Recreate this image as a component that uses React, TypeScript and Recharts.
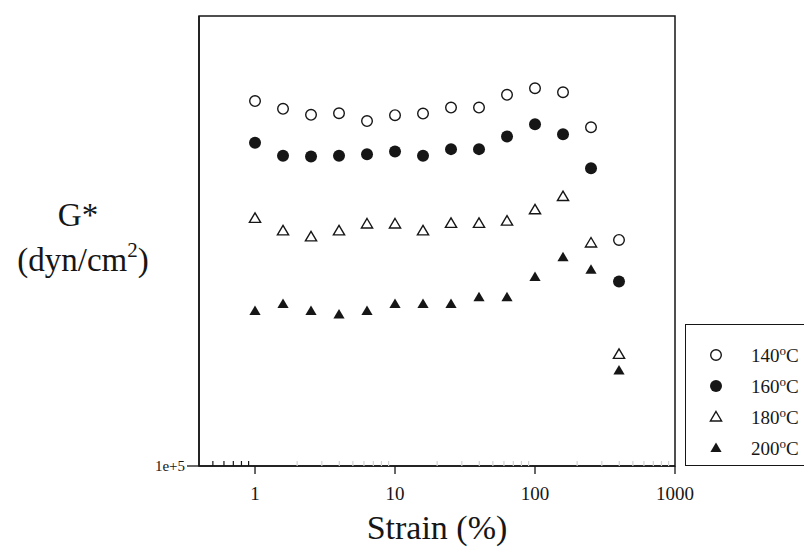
import React from "react";
import { ScatterChart, Scatter, XAxis, YAxis, ReferenceArea, Legend } from "recharts";

// strain (%) — five readings per decade
const strain = [1, 1.585, 2.512, 3.981, 6.31, 10, 15.85, 25.12, 39.81, 63.1, 100, 158.5, 251.2, 398.1];

// complex modulus G* (dyn/cm^2) per test temperature
const g140 = [6.47e5, 6.22e5, 6.03e5, 6.08e5, 5.84e5, 6.02e5, 6.07e5, 6.26e5, 6.26e5, 6.68e5, 6.91e5, 6.77e5, 5.66e5, 3.18e5];
const g160 = [5.23e5, 4.89e5, 4.87e5, 4.89e5, 4.93e5, 5.0e5, 4.89e5, 5.06e5, 5.06e5, 5.4e5, 5.75e5, 5.46e5, 4.59e5, 2.57e5];
const g180 = [3.55e5, 3.33e5, 3.23e5, 3.33e5, 3.45e5, 3.45e5, 3.33e5, 3.46e5, 3.46e5, 3.5e5, 3.71e5, 3.97e5, 3.13e5, 1.77e5];
const g200 = [2.21e5, 2.29e5, 2.21e5, 2.17e5, 2.21e5, 2.29e5, 2.29e5, 2.29e5, 2.37e5, 2.37e5, 2.63e5, 2.91e5, 2.73e5, 1.63e5];

const temps = ["140", "160", "180", "200"];

const xMajor = [1, 10, 100, 1000];
const xMinorDark = [0.5, 0.6, 0.7, 0.8, 0.9];
const xMinorFaint = [2, 3, 4, 5, 6, 7, 8, 9, 20, 30, 40, 50, 60, 70, 80, 90, 200, 300, 400, 500, 600, 700, 800, 900];
const yTicks = [1e5];

const FONT = "'Liberation Serif', 'DejaVu Serif', serif";
const INK = "#161616";

const toPoints = (vals: number[]) => strain.map((s, i) => ({ x: s, y: vals[i] }));

type Kind = "openCircle" | "dot" | "openTri" | "tri";

function Marker({ kind, cx, cy }: { kind: Kind; cx: number; cy: number }) {
  if (kind === "openCircle")
    return <circle cx={cx} cy={cy} r={5.3} fill="#fff" stroke={INK} strokeWidth={1.4} />;
  if (kind === "dot") return <circle cx={cx} cy={cy} r={6} fill={INK} />;
  const d = `M${cx},${cy - 5.5} L${cx + 5.6},${cy + 4} L${cx - 5.6},${cy + 4} Z`;
  if (kind === "openTri")
    return <path d={d} fill="#fff" stroke={INK} strokeWidth={1.4} strokeLinejoin="miter" />;
  return <path d={d} fill={INK} />;
}

const kinds: Kind[] = ["openCircle", "dot", "openTri", "tri"];
const seriesData = [g140, g160, g180, g200];

function StrainTick(props: any) {
  const { x, y, payload } = props;
  const v = payload.value as number;
  if (xMajor.includes(v)) {
    return (
      <g>
        <line x1={x} y1={y} x2={x} y2={y + 8} stroke={INK} strokeWidth={1.3} />
        <text x={x} y={y + 34} textAnchor="middle" fontFamily={FONT} fontSize={19} fill={INK}>
          {v}
        </text>
      </g>
    );
  }
  const faint = xMinorFaint.includes(v);
  return (
    <line
      x1={x}
      y1={y}
      x2={x}
      y2={y - 5}
      stroke={faint ? "#d2d2d2" : INK}
      strokeWidth={1.2}
    />
  );
}

function ModulusTick(props: any) {
  const { x, y } = props;
  return (
    <g>
      <line x1={x - 12} y1={y} x2={x} y2={y} stroke={INK} strokeWidth={1.3} />
      <text x={x - 14} y={y + 5} textAnchor="end" fontFamily={FONT} fontSize={15} fill={INK}>
        1e+5
      </text>
    </g>
  );
}

function LegendBox() {
  return (
    <div
      style={{
        boxSizing: "border-box",
        width: 119,
        height: 142,
        borderTop: `1.5px solid ${INK}`,
        borderLeft: `1.5px solid ${INK}`,
        borderBottom: `1.5px solid ${INK}`,
        background: "#fff",
        paddingTop: 14,
        fontFamily: FONT,
      }}
    >
      {temps.map((t, i) => (
        <div key={t} style={{ display: "flex", alignItems: "center", height: 31 }}>
          <svg width={60} height={20} style={{ flex: "none" }}>
            <Marker kind={kinds[i]} cx={30} cy={10} />
          </svg>
          <span style={{ marginLeft: 5, fontSize: 19, color: INK, lineHeight: 1 }}>
            {t}
            <sup style={{ fontSize: 13, verticalAlign: 7 }}>o</sup>C
          </span>
        </div>
      ))}
    </div>
  );
}

export default function App() {
  return (
    <div style={{ position: "absolute", left: 0, top: 0, width: 804, height: 556, background: "#fff" }}>
      <ScatterChart width={804} height={556} margin={{ top: 16, right: 129, bottom: 60, left: 139 }}>
        <XAxis
          dataKey="x"
          type="number"
          scale="log"
          domain={[0.398, 1000]}
          allowDataOverflow
          ticks={[...xMinorDark, ...xMajor, ...xMinorFaint]}
          interval={0}
          tickSize={0}
          tickMargin={0}
          tickLine={false}
          tick={<StrainTick />}
          height={30}
          axisLine={{ stroke: INK, strokeWidth: 1.5 }}
          label={{
            content: (p: any) => {
              const vb = p.viewBox;
              return (
                <text
                  x={vb.x + vb.width / 2}
                  y={vb.y + 73}
                  textAnchor="middle"
                  fontFamily={FONT}
                  fontSize={34}
                  fill={INK}
                >
                  Strain (%)
                </text>
              );
            },
          }}
        />
        <YAxis
          dataKey="y"
          type="number"
          scale="log"
          domain={[1e5, 1e6]}
          allowDataOverflow
          ticks={yTicks}
          interval={0}
          tickSize={0}
          tickMargin={0}
          tickLine={false}
          tick={<ModulusTick />}
          width={60}
          axisLine={{ stroke: INK, strokeWidth: 1.5 }}
          label={{
            content: () => (
              <g fontFamily={FONT} fill={INK} fontSize={33}>
                <text x={78} y={226} textAnchor="middle">
                  G*
                </text>
                <text x={83} y={271} textAnchor="middle">
                  (dyn/cm
                  <tspan fontSize={21} dy={-14}>
                    2
                  </tspan>
                  <tspan dy={14}>)</tspan>
                </text>
              </g>
            ),
          }}
        />
        <ReferenceArea
          x1={0.398}
          x2={1000}
          y1={1e5}
          y2={1e6}
          fill="none"
          stroke={INK}
          strokeWidth={1.5}
          ifOverflow="visible"
        />
        {seriesData.map((vals, i) => (
          <Scatter
            key={temps[i]}
            name={`${temps[i]}°C`}
            data={toPoints(vals)}
            isAnimationActive={false}
            shape={(p: any) => <Marker kind={kinds[i]} cx={p.cx} cy={p.cy} />}
          />
        ))}
        <Legend
          layout="horizontal"
          verticalAlign="middle"
          align="center"
          content={() => <LegendBox />}
          wrapperStyle={{ position: "absolute", left: 685, top: 324, width: 119, height: 142 }}
        />
      </ScatterChart>
    </div>
  );
}
